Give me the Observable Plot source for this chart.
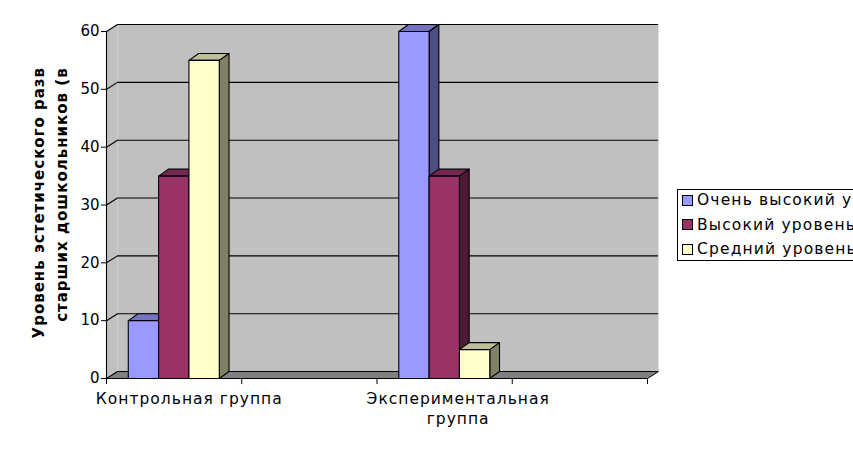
<!DOCTYPE html>
<html lang="ru">
<head>
<meta charset="utf-8">
<script src="https://cdn.jsdelivr.net/npm/d3@7"></script>
<script src="https://cdn.jsdelivr.net/npm/@observablehq/plot@0.6"></script>
<style>
html,body{margin:0;padding:0;background:#fff;overflow:hidden}
#wrap{position:relative;width:853px;height:450px;overflow:hidden}
#legend{position:absolute;left:677px;top:189px;width:176px;height:72px;box-sizing:border-box;border:1px solid #000;border-right:none;background:#fff;font:15.5px "DejaVu Sans",sans-serif;letter-spacing:1.15px;color:#000;white-space:nowrap;overflow:hidden}
#legend div{display:flex;align-items:center;height:24.5px;padding-left:4px}
#legend div:first-child{margin-top:-2px}
#legend i{display:block;width:9px;height:9px;border:1px solid #000;margin-right:4px;flex:none}
</style>
</head>
<body>
<div id="wrap"></div>
<script>
const categories = ["Контрольная группа", "Экспериментальная\nгруппа"];
const seriesNames = ["Очень высокий у", "Высокий уровень", "Средний уровень"];
const veryHigh = [10, 60];
const high = [35, 35];
const medium = [55, 5];
const seriesValues = [veryHigh, high, medium];
const frontColors = ["#9999ff", "#993366", "#ffffcc"];
const topColors = ["#7373bf", "#732650", "#bfbf99"];
const sideColors = ["#4d4d80", "#4d1a33", "#808066"];
const yTicks = [0, 10, 20, 30, 40, 50, 60];
const xTicks = [0, 1, 2, 3, 4];
const yTitleLines = ["Уровень эстетического разв", "старших дошкольников (в"];

// plot geometry in data units: x = category slots, y = value
const wallDx = 0.0815, wallDy = 1.2;
const barDx = 0.072, barDy = 1.2;
const barW = 0.2243, barStart = 0.161, slotStep = 2, labelOffset = 0.612, labelStep = 1.988;

const polys = [];
let pid = 0;
const addPoly = (color, pts) => {
  const id = pid++;
  [...pts, pts[0]].forEach(([x, y]) => polys.push({id, color, x, y}));
};
categories.forEach((_, c) => {
  seriesValues.forEach((vals, s) => {
    const x0 = c * slotStep + barStart + s * barW, x1 = x0 + barW, v = vals[c];
    addPoly(topColors[s], [[x0, v], [x1, v], [x1 + barDx, v + barDy], [x0 + barDx, v + barDy]]);
    addPoly(sideColors[s], [[x1, 0], [x1 + barDx, barDy], [x1 + barDx, v + barDy], [x1, v]]);
    addPoly(frontColors[s], [[x0, 0], [x1, 0], [x1, v], [x0, v]]);
  });
});

const poly = (pts, fill) => Plot.line(pts, {x: d => d[0], y: d => d[1], fill, stroke: "none"});

const chart = Plot.plot({
  width: 853, height: 450,
  marginLeft: 106, marginRight: 206, marginTop: 31, marginBottom: 72,
  style: {background: "#fff", fontFamily: "'DejaVu Sans', sans-serif", overflow: "visible"},
  x: {domain: [0, 4], label: null},
  y: {domain: [0, 60], label: null},
  color: {type: "identity"},
  marks: [
    poly([[wallDx, wallDy], [wallDx, 60 + wallDy], [4 + wallDx, 60 + wallDy], [4 + wallDx, wallDy], [wallDx, wallDy]], "#c0c0c0"),
    poly([[0, 0], [wallDx, wallDy], [wallDx, 60 + wallDy], [0, 60], [0, 0]], "#c0c0c0"),
    poly([[0, 0], [wallDx, wallDy], [4 + wallDx, wallDy], [4, 0], [0, 0]], "#808080"),
    Plot.link(yTicks, {x1: 0, y1: d => d, x2: wallDx, y2: d => d + wallDy, stroke: "#000", strokeWidth: 1.1}),
    Plot.ruleY(yTicks, {y: d => d + wallDy, x1: wallDx, x2: 4 + wallDx, stroke: "#000", strokeWidth: 1.1}),
    Plot.link([0], {x1: 4, y1: 0, x2: 4 + wallDx, y2: wallDy, stroke: "#000"}),
    Plot.line(polys, {x: "x", y: "y", z: "id", fill: "color", stroke: "#000", strokeWidth: 1.1, strokeLinejoin: "round"}),
    Plot.ruleX([0], {y1: 0, y2: 60, stroke: "#000", strokeWidth: 1.1}),
    Plot.ruleY([0], {x1: 0, x2: 4, stroke: "#000", strokeWidth: 1.1}),
    Plot.axisY({ticks: yTicks, tickSize: 5, tickPadding: 2, fontSize: 15, label: null, stroke: "#000", color: "#000"}),
    Plot.axisX({ticks: xTicks, tickSize: 6, tickFormat: () => "", label: null, stroke: "#000"}),
    Plot.text(categories, {
      x: (d, i) => i * labelStep + labelOffset, y: 0, text: d => d,
      dy: 11, lineAnchor: "top", fontSize: 15.5, fill: "#000", lineHeight: 1.3
    }),
    Plot.text([yTitleLines[0]], {
      frameAnchor: "left", dx: -67.25, y: 30.4, text: d => d, rotate: -90, textAnchor: "middle",
      fontSize: 15, fontWeight: "bold", fill: "#000"
    }),
    Plot.text([yTitleLines[1]], {
      frameAnchor: "left", dx: -44.75, y: 31.8, text: d => d, rotate: -90, textAnchor: "middle",
      fontSize: 15, fontWeight: "bold", fill: "#000"
    })
  ]
});
chart.querySelectorAll("text").forEach(t => {
  if (/[А-Яа-я]/.test(t.textContent)) t.setAttribute("letter-spacing", t.getAttribute("font-weight") === "bold" ? "1.4" : "1");
});
document.getElementById("wrap").append(chart);

const legend = document.createElement("div");
legend.id = "legend";
seriesNames.forEach((n, i) => {
  const row = document.createElement("div");
  const sw = document.createElement("i");
  sw.style.background = frontColors[i];
  const t = document.createElement("span");
  t.textContent = n;
  row.append(sw, t);
  legend.append(row);
});
document.getElementById("wrap").append(legend);
</script>
</body>
</html>
